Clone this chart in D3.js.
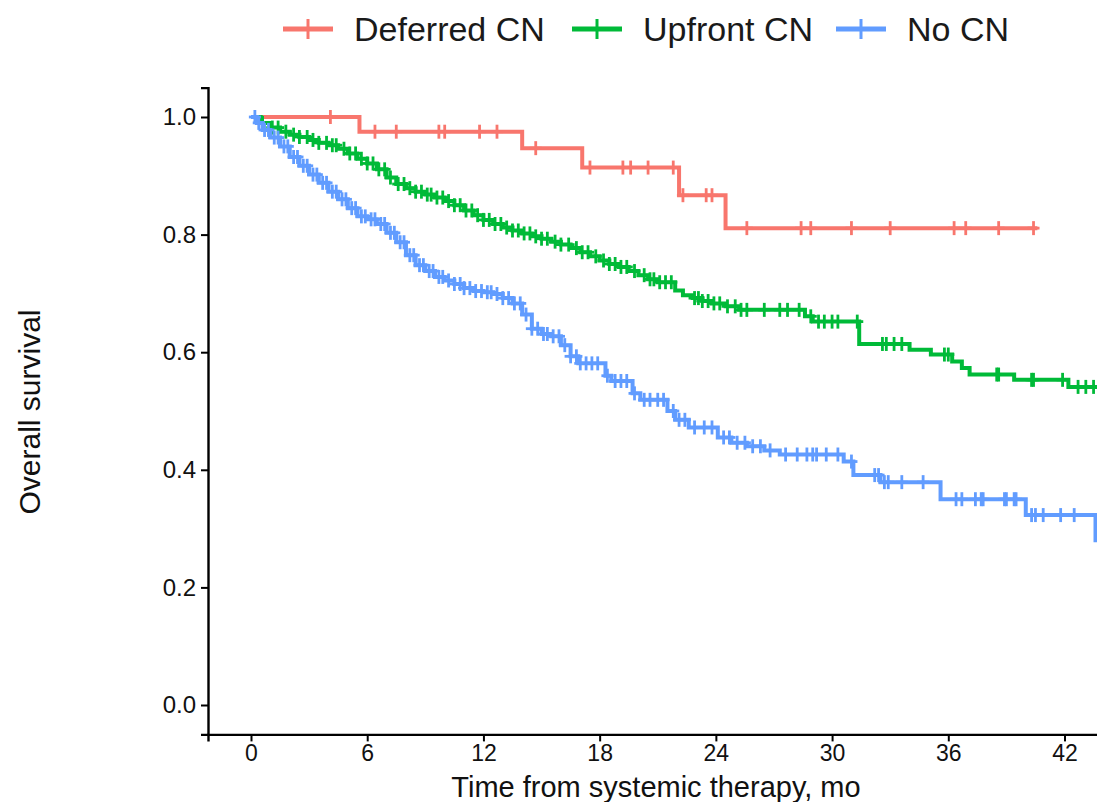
<!DOCTYPE html>
<html>
<head>
<meta charset="utf-8">
<script src="https://cdn.jsdelivr.net/npm/d3@7"></script>
<style>
html,body{margin:0;padding:0;background:#fff;overflow:hidden;}
text{font-family:"Liberation Sans",Arial,sans-serif;}
</style>
</head>
<body>
<svg id="chart" width="1097" height="802"></svg>
<script>
// ---------- data ----------
const groups = ["Deferred CN", "Upfront CN", "No CN"];
const colors = ["#F8766D", "#00BA38", "#619CFF"];
const xTicks = [0, 6, 12, 18, 24, 30, 36, 42];
const yTicks = [0.0, 0.2, 0.4, 0.6, 0.8, 1.0];

// Deferred CN
const deferredTime = [0, 5.6, 14.0, 17.1, 22.1, 24.5];
const deferredSurv = [1.0, 0.975, 0.947, 0.914, 0.867, 0.811];
const deferredEnd = 40.6;
const deferredCensor = [4.1, 6.4, 7.5, 9.7, 10.0, 11.8, 12.7, 14.7, 17.5, 19.2, 19.6, 20.5, 21.8,
  22.3, 23.5, 23.8, 25.6, 28.4, 28.9, 31.0, 33.0, 36.3, 36.9, 38.6, 40.4];

// Upfront CN
const upfrontTime = [0, 0.5, 1.0, 1.5, 2.0, 2.5, 3.0, 3.5, 4.0, 4.5, 5.0, 5.5, 6.0, 6.5, 7.0, 7.5,
  8.0, 8.5, 9.0, 9.5, 10.0, 10.5, 11.0, 11.5, 12.0, 12.5, 13.0, 13.5, 14.0, 14.5, 15.0, 15.5,
  16.0, 16.5, 17.0, 17.5, 18.0, 18.5, 19.0, 19.5, 20.0, 20.5, 21.0, 21.9, 22.3, 22.8, 23.3,
  23.8, 24.5, 25.2, 28.6, 29.0, 31.4, 34.0, 35.1, 36.2, 36.7, 37.1, 39.4, 42.2];
const upfrontSurv = [1.0, 0.990, 0.982, 0.975, 0.970, 0.966, 0.961, 0.956, 0.952, 0.946, 0.938,
  0.929, 0.921, 0.911, 0.897, 0.886, 0.879, 0.873, 0.868, 0.863, 0.857, 0.850, 0.841, 0.833,
  0.825, 0.818, 0.812, 0.807, 0.802, 0.797, 0.793, 0.788, 0.783, 0.777, 0.770, 0.763, 0.756,
  0.750, 0.745, 0.738, 0.731, 0.724, 0.719, 0.705, 0.697, 0.692, 0.687, 0.683, 0.678, 0.672,
  0.661, 0.652, 0.614, 0.604, 0.596, 0.584, 0.573, 0.562, 0.553, 0.541];
const upfrontEnd = 44.4;
const upfrontCensor = [0.6, 1.1, 1.4, 1.8, 2.2, 2.5, 2.9, 3.2, 3.5, 3.9, 4.2, 4.4, 4.8, 5.1, 5.4,
  5.7, 6.0, 6.3, 6.6, 6.9, 7.2, 7.6, 7.9, 8.2, 8.5, 8.8, 9.1, 9.3, 9.6, 9.9, 10.2, 10.5, 10.8,
  11.1, 11.4, 11.7, 12.0, 12.3, 12.6, 12.9, 13.2, 13.5, 13.8, 14.1, 14.4, 14.7, 15.0, 15.3,
  15.7, 16.0, 16.4, 16.8, 17.1, 17.4, 17.8, 18.2, 18.5, 18.8, 19.1, 19.4, 19.8, 20.3, 20.6,
  20.8, 21.1, 21.4, 21.7, 22.9, 23.1, 23.3, 23.6, 23.9, 24.2, 24.6, 25.0, 25.3, 25.6, 26.5,
  27.3, 27.7, 28.3, 28.9, 29.3, 29.6, 30.0, 30.3, 31.3, 32.6, 32.8, 33.2, 33.6, 35.8, 36.0,
  38.5, 38.6, 40.3, 40.4, 41.9, 42.7, 43.1, 43.5];

// No CN
const noTime = [0, 0.3, 0.6, 1.0, 1.5, 2.0, 2.5, 3.0, 3.5, 4.0, 4.5, 5.0, 5.5, 6.0, 6.5, 7.0,
  7.5, 8.0, 8.5, 9.0, 9.5, 10.0, 10.5, 11.0, 11.5, 12.0, 12.5, 13.0, 13.5, 14.0, 14.5, 15.0,
  15.5, 16.0, 16.5, 16.9, 18.3, 18.6, 19.7, 20.1, 21.5, 21.9, 22.6, 24.1, 24.8, 25.6, 26.5,
  27.3, 30.6, 31.1, 32.5, 35.6, 40.0, 43.6];
const noSurv = [1.0, 0.990, 0.978, 0.965, 0.950, 0.932, 0.917, 0.902, 0.888, 0.873, 0.860,
  0.845, 0.831, 0.826, 0.818, 0.803, 0.787, 0.765, 0.748, 0.738, 0.728, 0.722, 0.716, 0.709,
  0.704, 0.702, 0.699, 0.692, 0.683, 0.664, 0.640, 0.631, 0.627, 0.612, 0.593, 0.581, 0.560,
  0.551, 0.530, 0.519, 0.500, 0.485, 0.472, 0.455, 0.446, 0.440, 0.433, 0.426, 0.414, 0.391,
  0.379, 0.350, 0.323, 0.280];
const noEnd = 44.4;
const noCensor = [0.2, 0.4, 0.7, 0.9, 1.2, 1.4, 1.7, 1.9, 2.2, 2.4, 2.7, 2.9, 3.2, 3.4, 3.7, 3.9,
  4.2, 4.4, 4.7, 4.9, 5.2, 5.4, 5.7, 5.9, 6.2, 6.4, 6.7, 6.9, 7.2, 7.4, 7.7, 7.9, 8.2, 8.4, 8.7,
  8.9, 9.2, 9.4, 9.7, 9.9, 10.2, 10.5, 10.8, 11.0, 11.3, 11.6, 11.9, 12.2, 12.4, 12.7, 13.0,
  13.3, 13.6, 13.9, 14.2, 14.5, 14.8, 15.1, 15.3, 15.6, 15.9, 16.2, 16.5, 16.8, 17.0, 17.3,
  17.6, 17.9, 18.4, 18.8, 19.1, 19.4, 19.8, 20.3, 20.6, 21.0, 21.3, 21.8, 22.1, 22.4, 22.9,
  23.4, 23.8, 24.4, 24.7, 25.1, 25.5, 25.9, 26.3, 26.8, 27.6, 28.2, 28.7, 29.0, 29.2, 29.7,
  30.3, 31.0, 32.2, 32.4, 32.7, 32.9, 33.6, 34.7, 36.4, 36.7, 37.4, 37.7, 37.8, 38.9, 39.0,
  39.4, 39.5, 40.3, 40.5, 40.9, 41.8, 42.5];

const series = [
  {name: groups[0], color: colors[0], time: deferredTime, surv: deferredSurv, end: deferredEnd, censor: deferredCensor},
  {name: groups[1], color: colors[1], time: upfrontTime, surv: upfrontSurv, end: upfrontEnd, censor: upfrontCensor},
  {name: groups[2], color: colors[2], time: noTime, surv: noSurv, end: noEnd, censor: noCensor}
];

// ---------- layout ----------
const svg = d3.select("#chart");
const x = d3.scaleLinear().domain([-2.22, 46.62]).range([208, 1154]);
const y = d3.scaleLinear().domain([-0.05, 1.05]).range([734.4, 87.6]);

// axes
const xAxis = d3.axisBottom(x).tickValues(xTicks).tickSize(7).tickPadding(3).tickFormat(d3.format("d"));
const yAxis = d3.axisLeft(y).tickValues(yTicks).tickSize(7).tickPadding(5).tickFormat(d3.format(".1f"));

const gx = svg.append("g").attr("transform", "translate(0,734.4)").call(xAxis);
gx.select(".domain").attr("stroke", "#000").attr("stroke-width", 2.4);
gx.selectAll(".tick line").attr("stroke", "#000").attr("stroke-width", 2);
gx.selectAll(".tick text").attr("fill", "#111").style("font-size", "23px").attr("dy", "0.72em");

const gy = svg.append("g").attr("transform", "translate(208,0)").call(yAxis);
gy.select(".domain").attr("stroke", "#000").attr("stroke-width", 2.4);
gy.selectAll(".tick line").attr("stroke", "#000").attr("stroke-width", 2);
gy.selectAll(".tick text").attr("fill", "#111").style("font-size", "24px");

// axis titles
svg.append("text").attr("x", 656).attr("y", 797).attr("text-anchor", "middle")
  .style("font-size", "29px").attr("fill", "#111").text("Time from systemic therapy, mo");
svg.append("text").attr("transform", "translate(40,412) rotate(-90)").attr("text-anchor", "middle")
  .style("font-size", "30px").attr("fill", "#111").text("Overall survival");

// curves
const line = d3.line().x(d => x(d[0])).y(d => y(d[1])).curve(d3.curveStepAfter);
const plot = svg.append("g");
const armV = 7, armH = 6;

series.forEach(s => {
  const pts = s.time.map((t, i) => [t, s.surv[i]]);
  pts.push([s.end, s.surv[s.surv.length - 1]]);
  plot.append("path").datum(pts).attr("d", line)
    .attr("fill", "none").attr("stroke", s.color).attr("stroke-width", 4);
  const survAt = t => s.surv[Math.max(0, d3.bisectRight(s.time, t) - 1)];
  const cg = plot.append("g").attr("stroke", s.color).attr("stroke-width", 2.8);
  s.censor.forEach(t => {
    const cx = x(t), cy = y(survAt(t));
    cg.append("line").attr("x1", cx).attr("x2", cx).attr("y1", cy - armV).attr("y2", cy + armV);
    cg.append("line").attr("x1", cx - armH).attr("x2", cx + armH).attr("y1", cy).attr("y2", cy);
  });
});

// legend
const legendX = [283, 572, 836];
const lg = svg.append("g");
series.forEach((s, i) => {
  const g = lg.append("g").attr("transform", `translate(${legendX[i]},29)`);
  g.append("line").attr("x1", 0).attr("x2", 50).attr("y1", 0).attr("y2", 0)
    .attr("stroke", s.color).attr("stroke-width", 5);
  g.append("line").attr("x1", 25).attr("x2", 25).attr("y1", -10).attr("y2", 10)
    .attr("stroke", s.color).attr("stroke-width", 3);
  g.append("text").attr("x", 71).attr("y", 0).attr("dy", "0.35em")
    .style("font-size", "34px").attr("fill", "#1a1a1a").text(s.name);
});
</script>
</body>
</html>
